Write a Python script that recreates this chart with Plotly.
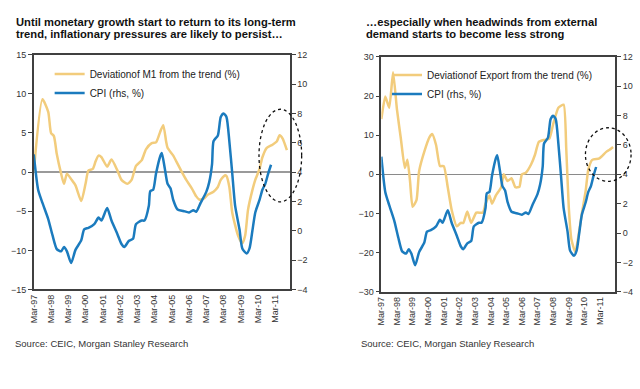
import plotly.graph_objects as go

# ---------------- data ----------------
m1_dates = ["1997-03", "1997-09", "1998-01", "1998-03", "1998-05", "1998-07", "1998-10", "1998-12",
            "1999-02", "1999-05", "1999-08", "1999-12", "2000-03", "2000-05", "2000-08", "2000-10",
            "2000-12", "2001-02", "2001-06", "2001-09", "2002-01", "2002-04", "2002-08", "2002-11",
            "2003-02", "2003-06", "2003-09", "2004-01", "2004-04", "2004-07", "2004-09", "2004-11",
            "2004-12", "2005-04", "2005-06", "2005-10", "2006-01", "2006-05", "2006-08", "2006-10",
            "2007-01", "2007-04", "2007-08", "2007-11", "2008-01", "2008-04", "2008-05", "2008-07",
            "2008-09", "2009-01", "2009-04", "2009-06", "2009-08", "2009-11", "2010-01", "2010-04",
            "2010-06", "2010-09", "2011-01", "2011-04", "2011-06", "2011-08", "2011-11"]
m1_dev = [0.0, 9.3, 7.7, 5.0, 4.6, 2.3, -0.2, -1.5,
          -0.2, -0.9, -1.7, -3.7, -1.5, 0.2, 0.4, 1.4,
          2.1, 1.9, 0.7, 1.6, 0.25, -1.0, -1.5, -1.0,
          0.8, 1.5, 2.9, 3.7, 3.8, 5.2, 6.0, 3.9,
          3.1, 2.1, 1.4, 0.0, -1.0, -2.1, -3.1, -3.5,
          -3.4, -2.9, -2.5, -1.9, -1.0, -0.4, -0.5, -1.9,
          -5.2, -8.1, -9.1, -8.1, -4.8, -2.3, -1.0, 0.4,
          1.9, 3.1, 3.5, 3.9, 4.7, 4.3, 2.8]

cpi_dates = ["1997-03", "1997-06", "1997-09", "1998-01", "1998-04", "1998-07", "1998-10", "1998-12",
             "1999-02", "1999-05", "1999-08", "1999-12", "2000-02", "2000-05", "2000-09", "2000-12",
             "2001-02", "2001-06", "2001-09", "2002-01", "2002-04", "2002-06", "2002-09", "2002-12",
             "2003-02", "2003-06", "2003-08", "2003-11", "2003-12", "2004-02", "2004-04", "2004-07",
             "2004-08", "2004-10", "2004-12", "2005-02", "2005-04", "2005-07", "2005-11", "2006-03",
             "2006-06", "2006-08", "2006-11", "2007-03", "2007-05", "2007-07", "2007-08", "2007-11",
             "2008-01", "2008-03", "2008-05", "2008-07", "2008-09", "2008-11", "2009-02", "2009-04",
             "2009-07", "2009-09", "2009-11", "2010-01", "2010-04", "2010-06", "2010-08", "2010-10",
             "2010-12"]
cpi = [5.2, 2.8, 1.9, 0.8, -0.3, -1.25, -1.4, -1.1,
       -1.4, -2.2, -1.3, -0.65, 0.1, 0.2, 0.45, 0.9,
       0.7, 1.55, 0.7, -0.2, -0.9, -1.1, -0.7, -0.55,
       0.45, 0.7, 0.7, 1.7, 2.7, 2.8, 3.9, 5.1,
       5.3, 4.3, 3.2, 2.9, 2.1, 1.45, 1.35, 1.25,
       1.4, 1.3, 1.9, 2.65, 3.3, 4.55, 6.1, 6.5,
       7.75, 8.0, 7.75, 6.1, 3.9, 1.7, 0.1, -1.2,
       -1.55, -1.2, 0.0, 1.25, 2.1, 2.8, 3.2, 3.9,
       4.5]

exp_dates = ["1997-03", "1997-06", "1997-09", "1997-12", "1998-03", "1998-06", "1998-09", "1998-11",
             "1999-01", "1999-03", "1999-06", "1999-08", "1999-12", "2000-04", "2000-06", "2000-09",
             "2000-12", "2001-03", "2001-06", "2001-09", "2002-01", "2002-04", "2002-06", "2002-09",
             "2002-12", "2003-04", "2003-09", "2003-11", "2004-02", "2004-04", "2004-07", "2004-11",
             "2005-01", "2005-04", "2005-07", "2005-10", "2006-01", "2006-03", "2006-06", "2006-10",
             "2007-01", "2007-04", "2007-08", "2007-12", "2008-03", "2008-07", "2008-11", "2009-01",
             "2009-03", "2009-05", "2009-08", "2009-10", "2010-01", "2010-04", "2010-06", "2010-09",
             "2011-02", "2011-04", "2011-08", "2011-10", "2012-01"]
exp_dev = [14.1, 19.9, 17.0, 26.1, 16.6, 9.1, 1.6, 3.7,
           -1.7, -8.3, -6.6, 0.8, 5.8, 9.5, 10.3, 7.5,
           2.1, 2.1, -3.3, -9.1, -13.3, -12.4, -12.4, -9.5,
           -12.4, -9.8, -9.8, -7.5, -5.4, -7.5, -5.4, -3.3,
           0.0, -1.7, -1.0, -3.3, -3.2, 0.0, 0.4, 2.5,
           5.0, 8.3, 8.8, 9.1, 12.8, 17.0, 17.8, 6.6,
           -8.3, -16.6, -19.9, -16.6, -10.0, -4.2, 1.2, 3.7,
           4.0, 4.5, 5.8, 6.2, 7.0]

left_title = ["Until monetary growth start to return to its long-term",
              "trend, inflationary pressures are likely to persist…"]
right_title = ["…especially when headwinds from external",
               "demand starts to become less strong"]
source_text = "Source: CEIC, Morgan Stanley Research"
m1_name = "Deviationof M1 from the trend (%)"
exp_name = "Deviationof Export from the trend (%)"
cpi_name = "CPI (rhs, %)"

GOLD = "#F2CC7C"
BLUE = "#1B7BBE"
FONT = "Liberation Sans, Arial, sans-serif"
AX = "#404040"
W, H = 640, 389


def px(x):
    return x / W


def py(y):
    return 1 - y / H


fig = go.Figure()

# left chart
fig.add_trace(go.Scatter(x=m1_dates, y=m1_dev, name=m1_name, mode="lines",
                         line=dict(color=GOLD, width=2.5, shape="spline", smoothing=0.6),
                         xaxis="x", yaxis="y", legend="legend"))
fig.add_trace(go.Scatter(x=cpi_dates, y=cpi, name=cpi_name, mode="lines",
                         line=dict(color=BLUE, width=2.5, shape="spline", smoothing=0.6),
                         xaxis="x", yaxis="y2", legend="legend"))
# right chart
fig.add_trace(go.Scatter(x=exp_dates, y=exp_dev, name=exp_name, mode="lines",
                         line=dict(color=GOLD, width=2.5, shape="spline", smoothing=0.5),
                         xaxis="x2", yaxis="y3", legend="legend2"))
fig.add_trace(go.Scatter(x=cpi_dates, y=cpi, name=cpi_name, mode="lines",
                         line=dict(color=BLUE, width=2.5, shape="spline", smoothing=0.6),
                         xaxis="x2", yaxis="y4", legend="legend2"))

tickfont = dict(family=FONT, size=9, color="#333333")

xcommon = dict(type="date", tickformat="%b-%y", tick0="1997-03-01", dtick="M12",
               tickangle=-90, tickfont=tickfont, showgrid=False, zeroline=False,
               showline=True, linecolor=AX, linewidth=1.5, mirror=True, ticks="",
               fixedrange=True)
ycommon = dict(showgrid=False, showline=True, linecolor=AX, linewidth=1.5,
               ticks="outside", ticklen=4, tickcolor=AX, tickwidth=1, tickfont=tickfont,
               fixedrange=True)

L_dom_x = [px(29), px(287)]
L_dom_y = [py(292), py(51)]
R_dom_x = [px(379.3), px(615)]
R_dom_y = [py(294.3), py(53.3)]

fig.update_layout(
    width=W, height=H,
    margin=dict(l=0, r=0, t=0, b=0),
    paper_bgcolor="white", plot_bgcolor="white",
    font=dict(family=FONT, color="#222222"),
    xaxis=dict(domain=L_dom_x, anchor="y", range=["1997-03-01", "2012-01-01"], **xcommon),
    yaxis=dict(domain=L_dom_y, anchor="x", range=[-15, 15], dtick=5, side="left",
               zeroline=True, zerolinecolor="#9A9A9A", zerolinewidth=1.8, **ycommon),
    yaxis2=dict(overlaying="y", anchor="x", side="right", range=[-4, 12], dtick=2,
                zeroline=False, **ycommon),
    xaxis2=dict(domain=R_dom_x, anchor="y3", range=["1997-03-01", "2012-02-20"], **xcommon),
    yaxis3=dict(domain=R_dom_y, anchor="x2", range=[-30, 30], dtick=10, side="left",
                zeroline=True, zerolinecolor="#8A8A8A", zerolinewidth=1.3, **ycommon),
    yaxis4=dict(overlaying="y3", anchor="x2", side="right", range=[-4, 12], dtick=2,
                zeroline=False, **ycommon),
    legend=dict(x=px(45), y=py(56), xanchor="left", yanchor="top", bgcolor="rgba(0,0,0,0)",
                font=dict(family=FONT, size=10, color="#222222"), itemwidth=30,
                tracegroupgap=0),
    legend2=dict(x=px(385), y=py(57), xanchor="left", yanchor="top", bgcolor="rgba(0,0,0,0)",
                 font=dict(family=FONT, size=10, color="#222222"), itemwidth=30,
                 tracegroupgap=0),
    showlegend=True,
)

annos = []
for i, line in enumerate(left_title):
    annos.append(dict(text="<b>" + line + "</b>", x=px(9), y=py(17 + 12.7 * i),
                      xref="paper", yref="paper", xanchor="left", yanchor="middle",
                      showarrow=False, font=dict(family=FONT, size=11.2, color="#111111")))
for i, line in enumerate(right_title):
    annos.append(dict(text="<b>" + line + "</b>", x=px(362), y=py(17 + 12.7 * i),
                      xref="paper", yref="paper", xanchor="left", yanchor="middle",
                      showarrow=False, font=dict(family=FONT, size=11.2, color="#111111")))
annos += [
    dict(text=source_text, x=px(8), y=py(347), xref="paper", yref="paper",
         xanchor="left", yanchor="middle", showarrow=False,
         font=dict(family=FONT, size=9.5, color="#333333")),
    dict(text=source_text, x=px(357), y=py(347), xref="paper", yref="paper",
         xanchor="left", yanchor="middle", showarrow=False,
         font=dict(family=FONT, size=9.5, color="#333333")),
]
fig.update_layout(annotations=annos)

# dashed highlight ellipses
fig.add_shape(type="circle", xref="paper", yref="paper",
              x0=px(256), x1=px(299), y0=py(202), y1=py(107),
              line=dict(color="#111111", width=1.3, dash="dot"))
fig.add_shape(type="circle", xref="paper", yref="paper",
              x0=px(585), x1=px(631), y0=py(181), y1=py(126),
              line=dict(color="#111111", width=1.3, dash="dot"))

fig.write_html("out.html",
               config={"displayModeBar": False},
               post_script="document.body.style.margin='0';document.body.style.overflow='hidden';")
